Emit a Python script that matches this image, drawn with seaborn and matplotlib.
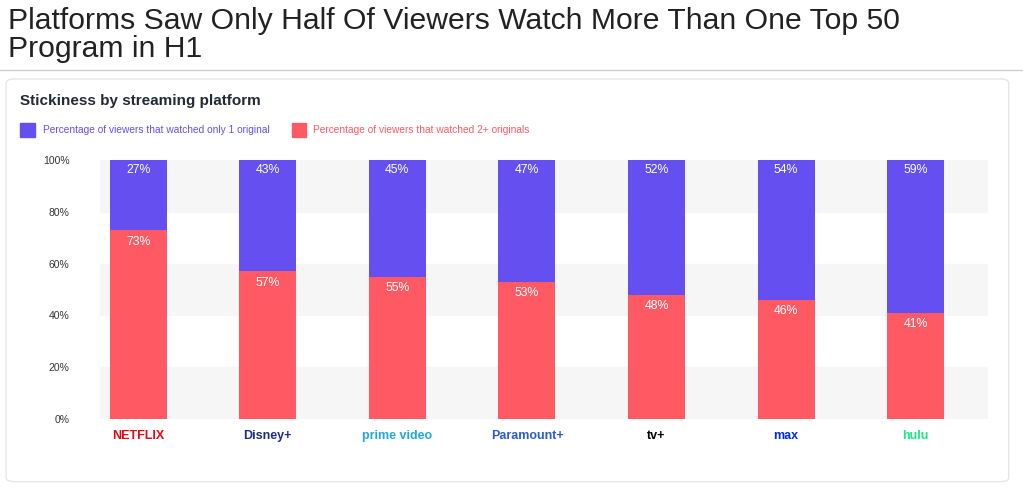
import matplotlib
matplotlib.use("Agg")
import matplotlib.pyplot as plt
import seaborn as sns
import pandas as pd
from matplotlib.patches import FancyBboxPatch

platforms = ["NETFLIX", "Disney+", "prime video", "Paramount+", "tv+", "max", "hulu"]
only_one = [27, 43, 45, 47, 52, 54, 59]
two_plus = [73, 57, 55, 53, 48, 46, 41]
logo_colors = ["#E50914", "#1B2C8C", "#1FA8E0", "#2A5BD7", "#000000", "#0028F0", "#1CE783"]

BLUE = "#654FF0"
RED = "#FF5A64"

df = pd.DataFrame({"platform": platforms, "one": only_one, "two": two_plus})
df["total"] = df["one"] + df["two"]

sns.set_style("white")
plt.rcParams["font.family"] = ["Liberation Sans", "DejaVu Sans"]

fig = plt.figure(figsize=(10.23, 4.94), dpi=100)
fig.text(0.008, 0.985, "Platforms Saw Only Half Of Viewers Watch More Than One Top 50\nProgram in H1",
         fontsize=21.7, va="top", ha="left", color="#222222", linespacing=1.0)
fig.add_artist(plt.Line2D([0, 1], [0.858, 0.858], color="#cccccc", lw=1))
card = FancyBboxPatch((0.006, 0.025), 0.98, 0.815, boxstyle="round,pad=0,rounding_size=0.008",
                      transform=fig.transFigure, facecolor="white", edgecolor="#e6e6e6", lw=1, zorder=-5)
fig.add_artist(card)
fig.text(0.02, 0.795, "Stickiness by streaming platform", fontsize=11, fontweight="bold", color="#222a33", va="center")
fig.add_artist(plt.Rectangle((0.02, 0.722), 0.014, 0.03, transform=fig.transFigure, color=BLUE))
fig.text(0.042, 0.737, "Percentage of viewers that watched only 1 original", fontsize=7.3, color=BLUE, va="center")
fig.add_artist(plt.Rectangle((0.285, 0.722), 0.014, 0.03, transform=fig.transFigure, color=RED))
fig.text(0.306, 0.737, "Percentage of viewers that watched 2+ originals", fontsize=7.3, color=RED, va="center")

ax = fig.add_axes([0.098, 0.152, 0.868, 0.524])
ax.patch.set_alpha(0)
for lo in (0, 40, 80):
    ax.axhspan(lo, lo + 20, color="#f6f6f6", zorder=0)
sns.barplot(data=df, x="platform", y="total", color=BLUE, width=0.44, saturation=1, linewidth=0, ax=ax, zorder=2)
sns.barplot(data=df, x="platform", y="two", color=RED, width=0.44, saturation=1, linewidth=0, ax=ax, zorder=3)
for i, (a, b) in enumerate(zip(only_one, two_plus)):
    ax.text(i, b + a - 4, f"{a}%", ha="center", va="center", color="white", fontsize=8.8, zorder=4)
    ax.text(i, b - 4.5, f"{b}%", ha="center", va="center", color="white", fontsize=8.8, zorder=4)

ax.set_xlim(-0.293, 6.56)
ax.set_ylim(0, 100)
ax.set_yticks([0, 20, 40, 60, 80, 100])
ax.set_yticklabels([f"{v}%" for v in [0, 20, 40, 60, 80, 100]], fontsize=7.5, color="#333333")
ax.tick_params(axis="y", length=0, pad=22)
ax.set_xticks(range(len(platforms)))
ax.set_xticklabels(platforms, fontsize=9, fontweight="bold")
for lbl, c in zip(ax.get_xticklabels(), logo_colors):
    lbl.set_color(c)
ax.tick_params(axis="x", length=0, pad=8)
ax.set_xlabel("")
ax.set_ylabel("")
sns.despine(ax=ax, left=True, bottom=True)
fig.savefig("out.png", dpi=100)
